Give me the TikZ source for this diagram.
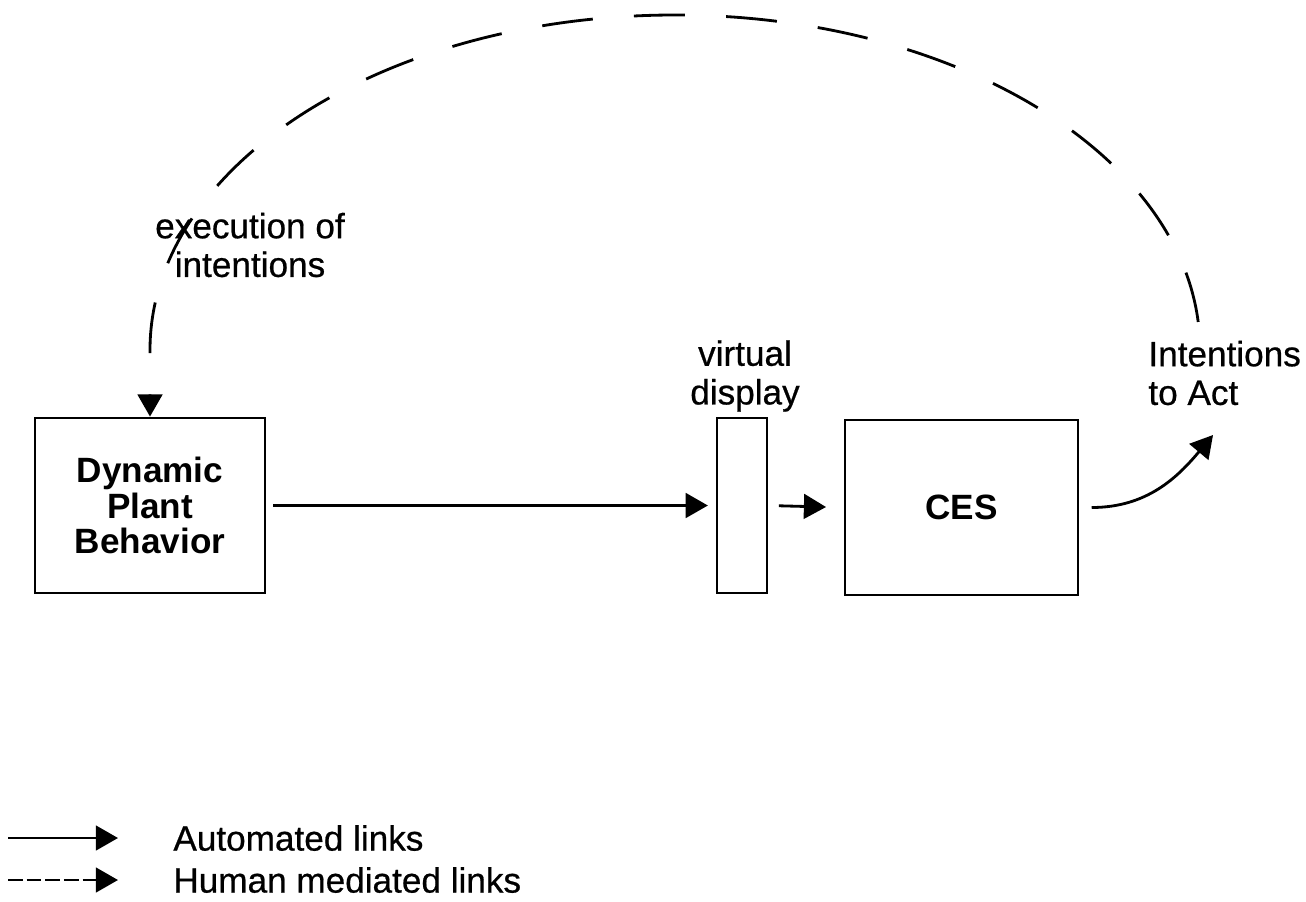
\documentclass[tikz,border=0pt]{standalone}
\usepackage{fontspec}
\setmainfont{Liberation Sans}[UprightFeatures={FakeBold=0.6}]
\usetikzlibrary{arrows.meta}
\tikzset{
  every picture/.style={line width=0.8pt},
  tip/.style={-{Triangle[length=6.3pt,width=7pt]}},
  blockbox/.style={draw, inner sep=0pt, align=center,
    font=\fontsize{10}{10}\selectfont\bfseries},
  lbl/.style={inner sep=0pt, align=center, font=\fontsize{10}{11}\selectfont},
  autolink/.style={tip},
  humanlink/.style={tip, dash pattern=on 14.5pt off 11.75pt, dash phase=18.25pt},
  legenddash/.style={tip, dash pattern=on 4.2pt off 1.1pt},
}
\begin{document}
\begin{tikzpicture}
\useasboundingbox (0,0) rectangle (13.06,-9.01);

% blocks
\node[blockbox, minimum width=2.30cm, minimum height=1.75cm] (dpb) at (1.50,-5.055)
  {Dynamic\\Plant\\Behavior};
\node[blockbox, minimum width=0.50cm, minimum height=1.75cm] (vd) at (7.42,-5.055) {};
\node[blockbox, minimum width=2.33cm, minimum height=1.75cm] (ces) at (9.615,-5.075) {CES};

% labels
\node[lbl] (exec) at (2.50,-2.45) {execution of\\intentions};
\node[lbl] (vdlab) at (7.45,-3.76) {virtual\\display};
\node[lbl, align=left, anchor=west] (intlab) at (11.47,-3.73) {Intentions\\to Act};

% automated links
\draw[autolink, shorten <=2pt, shorten >=2.2pt] (dpb.east) -- (vd.west);
\draw[autolink, shorten <=3pt, shorten >=5pt] (vd.east) -- (ces.west);
\coordinate (acttip) at (12.13,-4.35);
\draw[autolink] ([xshift=3.5pt]ces.east) to[out=0, in=230] (acttip);

% human mediated link back to the plant
\coordinate (hstart) at (12.00,-3.50);
\draw[humanlink] (hstart) arc[start angle=0, end angle=180, x radius=5.25, y radius=3.35]
  -- (dpb.north);

% legend
\coordinate (la1) at (0.08,-8.38);
\coordinate (la2) at (1.18,-8.38);
\coordinate (lb1) at (0.08,-8.80);
\coordinate (lb2) at (1.18,-8.80);
\draw[autolink] (la1) -- (la2);
\draw[legenddash] (lb1) -- (lb2);
\node[lbl, anchor=west] (lauto) at (1.72,-8.38) {Automated links};
\node[lbl, anchor=west] (lhuman) at (1.72,-8.80) {Human mediated links};
\end{tikzpicture}
\end{document}
